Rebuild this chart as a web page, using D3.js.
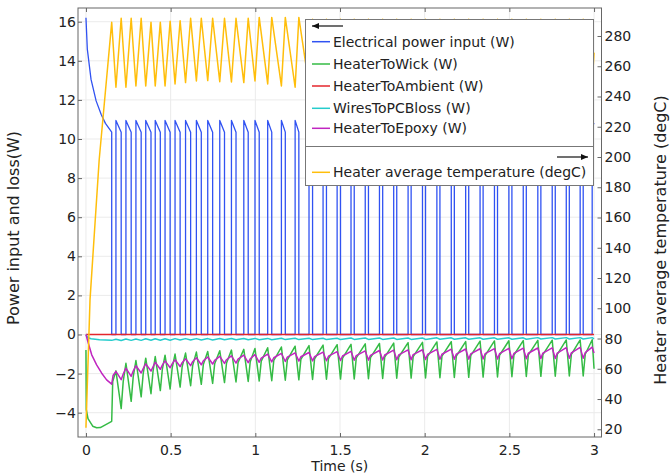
<!DOCTYPE html>
<html>
<head>
<meta charset="utf-8">
<script src="https://cdn.jsdelivr.net/npm/d3@7"></script>
<style>
body { margin: 0; background: #fff; }
text { font-family: "DejaVu Sans", sans-serif; }
</style>
</head>
<body>
<script>
let width = 672;
let height = 474;

// tick labels
const timeTicks = [0, 0.5, 1, 1.5, 2, 2.5, 3];
const powerTicks = [-4, -2, 0, 2, 4, 6, 8, 10, 12, 14, 16];
const tempTicks = [20, 40, 60, 80, 100, 120, 140, 160, 180, 200, 220, 240, 260, 280];

const seriesNames = ['Electrical power input (W)', 'HeaterToWick (W)', 'HeaterToAmbient (W)',
	'WiresToPCBloss (W)', 'HeaterToEpoxy (W)'];
const tempName = 'Heater average temperature (degC)';

// heater pulses: start time (s) and width (s)
const pulseStart = [0.177, 0.236, 0.295, 0.353, 0.409, 0.467, 0.526, 0.588, 0.652, 0.719,
	0.790, 0.859, 0.932, 0.998, 1.073, 1.154, 1.235, 1.317, 1.400, 1.483,
	1.565, 1.649, 1.733, 1.817, 1.902, 1.987, 2.072, 2.157, 2.242, 2.327,
	2.412, 2.497, 2.582, 2.668, 2.753, 2.836, 2.918, 2.989];
const pulseWidth = [0.031, 0.031, 0.031, 0.031, 0.030, 0.030, 0.030, 0.030, 0.029, 0.029,
	0.028, 0.027, 0.026, 0.025, 0.024, 0.023, 0.022, 0.021, 0.020, 0.020,
	0.019, 0.019, 0.019, 0.018, 0.018, 0.018, 0.018, 0.018, 0.018, 0.018,
	0.018, 0.018, 0.018, 0.018, 0.018, 0.018, 0.018, 0.018];

// electrical power input
const powerStart = [[0, 16.2], [0.008, 14.6], [0.03, 13.05], [0.06, 11.95], [0.09, 11.25],
	[0.115, 10.8], [0.152, 10.35], [0.152, 0]];
const powerPeak = [10.95, 10.95, 10.95, 10.95, 10.95, 10.95, 10.95, 10.95, 10.95, 10.95,
	10.95, 10.95, 10.95, 10.95, 10.95, 10.95, 10.95, 10.95, 10.95, 10.95,
	10.95, 10.95, 10.95, 10.95, 10.95, 10.95, 10.95, 10.95, 10.95, 10.95,
	10.95, 10.95, 10.95, 10.95, 10.95, 10.95, 10.95, 10.95];
const powerLow = [10.35, 10.35, 10.35, 10.35, 10.35, 10.35, 10.35, 10.35, 10.35, 10.35,
	10.35, 10.35, 10.35, 10.35, 10.35, 10.35, 10.35, 10.35, 10.35, 10.35,
	10.4, 10.4, 10.4, 10.4, 10.4, 10.4, 10.4, 10.4, 10.4, 10.4,
	10.4, 10.4, 10.4, 10.4, 10.4, 10.4, 10.4, 10.4];
const powerEnd = [3.0, 10.75];

// heater to wick
const wickStart = [[0, -0.79], [0.002, -3.84], [0.012, -4.3], [0.04, -4.69], [0.063, -4.77],
	[0.085, -4.76], [0.152, -4.44], [0.158, -2.4]];
const wickTop = [-1.86, -1.47, -1.33, -1.21, -1.13, -1.06, -1.00, -0.95, -0.90, -0.87,
	-0.83, -0.80, -0.76, -0.72, -0.68, -0.64, -0.60, -0.57, -0.54, -0.52,
	-0.50, -0.48, -0.46, -0.44, -0.42, -0.40, -0.38, -0.37, -0.36, -0.34,
	-0.33, -0.32, -0.31, -0.30, -0.29, -0.28, -0.28, -0.27];
const wickLow = [-3.79, -3.42, -3.19, -3.03, -2.87, -2.79, -2.69, -2.62, -2.55, -2.50,
	-2.46, -2.43, -2.40, -2.38, -2.36, -2.34, -2.32, -2.30, -2.29, -2.28,
	-2.27, -2.26, -2.25, -2.24, -2.23, -2.22, -2.21, -2.20, -2.19, -2.18,
	-2.17, -2.16, -2.15, -2.14, -2.13, -2.12, -2.12, -2.11];
const wickMid = [-2.40, -2.17, -2.00, -1.89, -1.78, -1.72, -1.65, -1.59, -1.54, -1.50,
	-1.46, -1.43, -1.39, -1.36, -1.33, -1.30, -1.27, -1.24, -1.23, -1.21,
	-1.20, -1.18, -1.16, -1.15, -1.13, -1.12, -1.11, -1.10, -1.08, -1.07,
	-1.06, -1.05, -1.04, -1.03, -1.02, -1.02, -1.01, -1.00];
const wickEnd = [3.0, -1.75];

// heater to ambient
const ambientT = [0, 3];
const ambientV = [0, 0];

// wires to PCB loss
const wiresStart = [[0, 0], [0.01, -0.15], [0.03, -0.22], [0.08, -0.27], [0.152, -0.3]];
const wiresTop = [-0.24, -0.23, -0.23, -0.22, -0.22, -0.22, -0.21, -0.21, -0.21, -0.21,
	-0.20, -0.20, -0.20, -0.20, -0.20, -0.19, -0.19, -0.19, -0.19, -0.19,
	-0.18, -0.18, -0.18, -0.18, -0.18, -0.18, -0.17, -0.17, -0.17, -0.17,
	-0.17, -0.17, -0.17, -0.16, -0.16, -0.16, -0.16, -0.16];
const wiresLow = [-0.31, -0.30, -0.30, -0.29, -0.29, -0.29, -0.28, -0.28, -0.28, -0.28,
	-0.27, -0.27, -0.27, -0.27, -0.27, -0.26, -0.26, -0.26, -0.26, -0.26,
	-0.25, -0.25, -0.25, -0.25, -0.25, -0.25, -0.24, -0.24, -0.24, -0.24,
	-0.24, -0.24, -0.24, -0.23, -0.23, -0.23, -0.23, -0.23];
const wiresEnd = [3.0, -0.22];

// heater to epoxy
const epoxyStart = [[0, 0], [0.014, -0.45], [0.034, -1.04], [0.063, -1.55], [0.093, -1.98],
	[0.122, -2.32], [0.152, -2.54], [0.16, -2.1]];
const epoxyTop = [-1.89, -1.72, -1.60, -1.50, -1.42, -1.35, -1.29, -1.24, -1.19, -1.15,
	-1.12, -1.09, -1.06, -1.03, -1.00, -0.97, -0.94, -0.92, -0.90, -0.88,
	-0.86, -0.84, -0.82, -0.80, -0.79, -0.78, -0.76, -0.75, -0.74, -0.73,
	-0.72, -0.71, -0.70, -0.69, -0.68, -0.67, -0.66, -0.65];
const epoxyLow = [-2.31, -2.14, -1.97, -1.87, -1.78, -1.70, -1.64, -1.59, -1.55, -1.51,
	-1.48, -1.46, -1.44, -1.42, -1.40, -1.38, -1.36, -1.35, -1.34, -1.33,
	-1.32, -1.31, -1.30, -1.29, -1.29, -1.28, -1.27, -1.27, -1.26, -1.25,
	-1.25, -1.24, -1.24, -1.23, -1.23, -1.22, -1.22, -1.21];
const epoxyMid = [-2.02, -1.87, -1.74, -1.65, -1.57, -1.50, -1.44, -1.39, -1.35, -1.32,
	-1.29, -1.26, -1.24, -1.21, -1.19, -1.16, -1.14, -1.13, -1.11, -1.10,
	-1.08, -1.07, -1.05, -1.04, -1.03, -1.02, -1.01, -1.00, -0.99, -0.98,
	-0.98, -0.97, -0.96, -0.95, -0.95, -0.94, -0.93, -0.93];
const epoxyEnd = [3.0, -0.95];

// heater average temperature (right axis)
const tempStart = [[0, 21], [0.024, 105.7], [0.078, 198], [0.152, 289]];
const tempLow = [246.1, 246.1, 247.0, 247.0, 247.0, 247.0, 248.3, 249.2, 250.3, 250.5,
	249.8, 249.6, 249.2, 250.3, 248.3, 247.0, 246.1, 247, 248, 248,
	248, 248, 248, 248, 248, 248, 248, 248, 248, 248,
	248, 248, 248, 248, 248, 248, 248, 249];
const tempTop = [291.7, 291.7, 291.7, 289.0, 289.0, 289.7, 290.1, 291.7, 291.7, 291.7,
	291.7, 291.7, 291.7, 292.3, 292.3, 292.3, 292.3, 291, 291, 291,
	291, 291, 291, 291, 291, 291, 291, 291, 291, 291,
	291, 291, 291, 291, 291, 291, 291, 291];
const tempEnd = [3.0, 269];

const colors = ['#3052f2', '#35bb45', '#e4262c', '#25cccc', '#c025c0'];
const widths = [1.3, 1.5, 1.5, 1.5, 1.5];
const tempColor = '#ffbe0b';

let svg = d3.select('body').append('svg')
	.attr('width', width)
	.attr('height', height);

let pLeft = 78, pRight = 601.5, pTop = 8, pBottom = 437;

let x = d3.scaleLinear().domain([-0.047, 3.044]).range([pLeft, pRight]);
let yL = d3.scaleLinear().domain([-5.243, 16.701]).range([pBottom, pTop]);
let yR = d3.scaleLinear().domain([14.9, 298.5]).range([pBottom, pTop]);

// build the polylines from the pulse tables
function build(start, perPulse, end) {
	let rows = start.slice();
	pulseStart.forEach((s, i) => {
		perPulse(s, pulseWidth[i], i).forEach(p => rows.push(p));
	});
	rows = rows.filter(d => d[0] <= end[0]);
	rows.push(end);
	return rows;
}

let power = build(powerStart, (s, w, i) => [[s, 0], [s, powerPeak[i]], [s + w, powerLow[i]], [s + w, 0]], powerEnd);
let wick = build(wickStart, (s, w, i) => [[s, wickTop[i]], [s + w, wickLow[i]], [s + w + 0.012, wickMid[i]]], wickEnd);
let ambient = ambientT.map((t, i) => [t, ambientV[i]]);
let wires = build(wiresStart, (s, w, i) => [[s, wiresTop[i]], [s + w, wiresLow[i]]], wiresEnd);
let epoxy = build(epoxyStart, (s, w, i) => [[s, epoxyTop[i]], [s + w, epoxyLow[i]], [s + w + 0.012, epoxyMid[i]]], epoxyEnd);
let temp = build(tempStart, (s, w, i) => [[s, tempLow[i]], [s + w, tempTop[i]]], tempEnd);

// grid
let grid = svg.append('g');
grid.selectAll('.vg').data(timeTicks).enter().append('line')
	.attr('x1', d => x(d)).attr('x2', d => x(d))
	.attr('y1', pTop).attr('y2', pBottom)
	.style('stroke', '#ebebeb');
grid.selectAll('.hg').data(powerTicks).enter().append('line')
	.attr('x1', pLeft).attr('x2', pRight)
	.attr('y1', d => yL(d)).attr('y2', d => yL(d))
	.style('stroke', '#ebebeb');

svg.append('clipPath').attr('id', 'plot')
	.append('rect').attr('x', pLeft).attr('y', pTop)
	.attr('width', pRight - pLeft).attr('height', pBottom - pTop);

let plot = svg.append('g').attr('clip-path', 'url(#plot)');
let lineL = d3.line().x(d => x(d[0])).y(d => yL(d[1]));
let lineR = d3.line().x(d => x(d[0])).y(d => yR(d[1]));

[power, wick, ambient, wires, epoxy].forEach((rows, i) => {
	plot.append('path')
		.attr('d', lineL(rows))
		.style('fill', 'none')
		.style('stroke', colors[i])
		.style('stroke-width', widths[i])
		.style('stroke-linejoin', 'round');
});
plot.append('path')
	.attr('d', lineR(temp))
	.style('fill', 'none')
	.style('stroke', tempColor)
	.style('stroke-width', 1.5)
	.style('stroke-linejoin', 'round');

// axes
function styleAxis(g) {
	g.select('.domain').remove();
	g.selectAll('line').style('stroke', '#666');
	g.selectAll('text').style('font-size', '14px').style('fill', '#222')
		.style('font-family', '"DejaVu Sans", sans-serif');
}

svg.append('g').attr('transform', 'translate(0,' + pBottom + ')')
	.call(d3.axisBottom(x).tickValues(timeTicks).tickFormat(d3.format('')).tickSizeInner(-4).tickSizeOuter(0).tickPadding(8.5))
	.call(styleAxis);
svg.append('g').attr('transform', 'translate(0,' + pTop + ')')
	.call(d3.axisTop(x).tickValues(timeTicks).tickFormat('').tickSizeInner(-4).tickSizeOuter(0))
	.call(styleAxis);
svg.append('g').attr('transform', 'translate(' + pLeft + ',0)')
	.call(d3.axisLeft(yL).tickValues(powerTicks).tickSizeInner(-4).tickSizeOuter(0).tickPadding(2))
	.call(styleAxis);
svg.append('g').attr('transform', 'translate(' + pRight + ',0)')
	.call(d3.axisRight(yR).tickValues(tempTicks).tickSizeInner(-4).tickSizeOuter(0).tickPadding(3))
	.call(styleAxis);

svg.append('rect')
	.attr('x', pLeft).attr('y', pTop)
	.attr('width', pRight - pLeft).attr('height', pBottom - pTop)
	.style('fill', 'none')
	.style('stroke', '#666')
	.style('stroke-width', 1);

// axis titles
svg.append('text')
	.attr('x', (pLeft + pRight) / 2).attr('y', 470.5)
	.attr('text-anchor', 'middle')
	.style('font-size', '14px').style('fill', '#222')
	.text('Time (s)');
svg.append('text')
	.attr('transform', 'translate(19,228) rotate(-90)')
	.attr('text-anchor', 'middle')
	.style('font-size', '16px').style('fill', '#222')
	.text('Power input and loss(W)');
svg.append('text')
	.attr('transform', 'translate(666,240) rotate(-90)')
	.attr('text-anchor', 'middle')
	.style('font-size', '16px').style('fill', '#222')
	.text('Heater average temperature (degC)');

// legend
let legend = svg.append('g');
legend.append('rect')
	.attr('x', 305.5).attr('y', 19.5)
	.attr('width', 288).attr('height', 166)
	.style('fill', '#fff')
	.style('stroke', '#777');
legend.append('line')
	.attr('x1', 305.5).attr('x2', 593.5)
	.attr('y1', 146.5).attr('y2', 146.5)
	.style('stroke', '#777');

function arrow(x1, x2, y, dir) {
	legend.append('line')
		.attr('x1', x1).attr('x2', x2).attr('y1', y).attr('y2', y)
		.style('stroke', '#111').style('stroke-width', 1.2);
	let tip = dir < 0 ? x1 : x2;
	legend.append('path')
		.attr('d', 'M' + tip + ',' + y + 'L' + (tip - dir * 7) + ',' + (y - 3) + 'L' + (tip - dir * 7) + ',' + (y + 3) + 'Z')
		.style('fill', '#111');
}
arrow(312, 343, 26, -1);
arrow(557, 588, 157, 1);

let rowsY = [41.7, 64, 86, 108.3, 128.3];
seriesNames.forEach((name, i) => {
	legend.append('line')
		.attr('x1', 312).attr('x2', 330)
		.attr('y1', rowsY[i]).attr('y2', rowsY[i])
		.style('stroke', colors[i]).style('stroke-width', 1.5);
	legend.append('text')
		.attr('x', 333).attr('y', rowsY[i] + 5)
		.style('font-size', '14px').style('fill', '#222')
		.text(name);
});
legend.append('line')
	.attr('x1', 312).attr('x2', 330)
	.attr('y1', 172.3).attr('y2', 172.3)
	.style('stroke', tempColor).style('stroke-width', 1.5);
legend.append('text')
	.attr('x', 333).attr('y', 177.3)
	.style('font-size', '14px').style('fill', '#222')
	.text(tempName);
</script>
</body>
</html>
